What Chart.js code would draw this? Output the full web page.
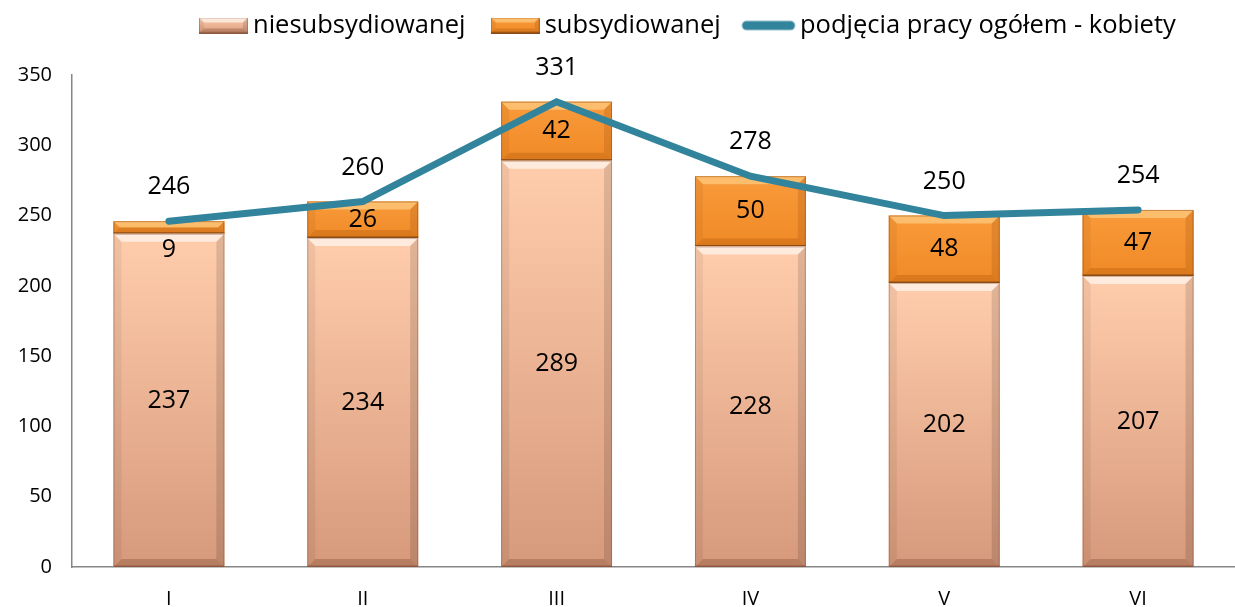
<!DOCTYPE html>
<html>
<head>
<meta charset="utf-8">
<script src="https://cdn.jsdelivr.net/npm/chart.js@4/dist/chart.umd.min.js"></script>
<style>
html,body{margin:0;padding:0;background:#fff;}
#wrap{width:1235px;height:607px;position:relative;}
</style>
</head>
<body>
<div id="wrap"><canvas id="c" width="1235" height="607"></canvas></div>
<script>
const categories = ['I', 'II', 'III', 'IV', 'V', 'VI'];
const niesubsydiowane = [237, 234, 289, 228, 202, 207];
const subsydiowane = [9, 26, 42, 50, 48, 47];
const ogolem = [246, 260, 331, 278, 250, 254];
const seriesNames = ['niesubsydiowanej', 'subsydiowanej', 'podjęcia pracy ogółem - kobiety'];
const yTicks = [0, 50, 100, 150, 200, 250, 300, 350];

const FONT = "'Open Sans', 'DejaVu Sans', sans-serif";
const LEGEND_FS = 25.5;
const LINE_COLOR = '#31849B';

const barStyles = [
  {top: '#FFCDAC', bottom: '#D6997B', bevel: 8, light: 'rgba(255,255,255,0.6)', dark: 'rgba(90,45,20,0.25)',
   side: 'rgba(0,0,0,0.06)', side2: 'rgba(0,0,0,0.12)', edge: 'rgba(120,70,45,0.35)', baseLine: 'rgba(120,70,45,0.5)'},
  {top: '#F99A3A', bottom: '#F08A27', bevel: 8, light: 'rgba(255,215,145,0.6)', dark: 'rgba(160,75,0,0.28)',
   side: 'rgba(120,50,0,0.08)', side2: 'rgba(120,50,0,0.16)', edge: 'rgba(140,70,15,0.45)', baseLine: '#8A4A14'}
];

function paintBevelBox(ctx, l, t, r, b, style) {
  const h = b - t;
  const g = ctx.createLinearGradient(0, t, 0, b);
  g.addColorStop(0, style.top);
  g.addColorStop(1, style.bottom);
  ctx.fillStyle = g;
  ctx.fillRect(l, t, r - l, h);
  const bv = Math.min(style.bevel, h / 2, (r - l) / 2);
  ctx.fillStyle = style.light;
  ctx.beginPath();
  ctx.moveTo(l, t); ctx.lineTo(r, t); ctx.lineTo(r - bv, t + bv); ctx.lineTo(l + bv, t + bv); ctx.closePath(); ctx.fill();
  ctx.fillStyle = style.dark;
  ctx.beginPath();
  ctx.moveTo(l, b); ctx.lineTo(r, b); ctx.lineTo(r - bv, b - bv); ctx.lineTo(l + bv, b - bv); ctx.closePath(); ctx.fill();
  ctx.fillStyle = style.side;
  ctx.beginPath();
  ctx.moveTo(l, t); ctx.lineTo(l + bv, t + bv); ctx.lineTo(l + bv, b - bv); ctx.lineTo(l, b); ctx.closePath(); ctx.fill();
  ctx.fillStyle = style.side2;
  ctx.beginPath();
  ctx.moveTo(r, t); ctx.lineTo(r - bv, t + bv); ctx.lineTo(r - bv, b - bv); ctx.lineTo(r, b); ctx.closePath(); ctx.fill();
  ctx.strokeStyle = style.edge;
  ctx.lineWidth = 1;
  ctx.strokeRect(l + 0.5, t + 0.5, r - l - 1, h - 1);
  ctx.fillStyle = style.baseLine;
  ctx.fillRect(l, b - 1.5, r - l, 1.5);
}

function legendBoxImage(style) {
  const c = document.createElement('canvas');
  c.width = 49; c.height = 16;
  const x = c.getContext('2d');
  paintBevelBox(x, 0, 0, 49, 16, Object.assign({}, style, {bevel: 5}));
  return c;
}
function legendLineImage() {
  const c = document.createElement('canvas');
  c.width = 60; c.height = 12;
  const x = c.getContext('2d');
  x.strokeStyle = LINE_COLOR;
  x.lineWidth = 9;
  x.lineCap = 'round';
  x.beginPath(); x.moveTo(6, 6); x.lineTo(50, 6); x.stroke();
  return c;
}
const legendImages = [legendBoxImage(barStyles[0]), legendBoxImage(barStyles[1]), legendLineImage()];

const barPainter = {
  id: 'barPainter',
  afterDatasetDraw(chart, args) {
    const style = barStyles[args.index];
    if (!style) return;
    const ctx = chart.ctx;
    ctx.save();
    args.meta.data.forEach(el => {
      const p = el.getProps(['x', 'y', 'base', 'width'], true);
      const l = p.x - p.width / 2, r = p.x + p.width / 2;
      const t = Math.min(p.y, p.base), b = Math.max(p.y, p.base);
      paintBevelBox(ctx, l, t, r, b, style);
    });
    ctx.restore();
  }
};

const valueLabels = {
  id: 'valueLabels',
  afterDatasetsDraw(chart) {
    const ctx = chart.ctx;
    ctx.save();
    ctx.fillStyle = '#000';
    ctx.textAlign = 'center';
    ctx.textBaseline = 'middle';
    ctx.font = "25px " + FONT;
    chart.data.datasets.forEach((ds, di) => {
      const meta = chart.getDatasetMeta(di);
      meta.data.forEach((el, i) => {
        const v = ds.data[i];
        if (ds.type === 'line') {
          ctx.fillText(String(v), el.x, el.y - 34);
        } else {
          const p = el.getProps(['x', 'y', 'base'], true);
          const t = Math.min(p.y, p.base), b = Math.max(p.y, p.base);
          let cy = (t + b) / 2;
          if (b - t < 22) cy = b + 16;
          ctx.fillText(String(v), p.x, cy);
        }
      });
    });
    ctx.restore();
  }
};

const legendPos = {
  id: 'legendPos',
  beforeUpdate(chart) {
    const lg = chart.legend;
    if (lg && !lg._patched) {
      const f = lg.fit.bind(lg);
      lg.fit = function () { f(); this.height = 75; };
      lg._patched = true;
    }
  },
  afterLayout(chart) {
    const lg = chart.legend;
    if (!lg) return;
    const pad = lg.options.labels.padding;
    lg.left = 206.75 - pad;
    lg.top = 25.5 - pad - LEGEND_FS / 2;
  }
};

const chart = new Chart(document.getElementById('c'), {
  data: {
    labels: categories,
    datasets: [
      {type: 'bar', label: seriesNames[0], data: niesubsydiowane, backgroundColor: '#EDB594', stack: 'bars', order: 1,
       categoryPercentage: 1, barPercentage: 0.572},
      {type: 'bar', label: seriesNames[1], data: subsydiowane, backgroundColor: '#F28B2A', stack: 'bars', order: 1,
       categoryPercentage: 1, barPercentage: 0.572},
      {type: 'line', label: seriesNames[2], data: ogolem, borderColor: LINE_COLOR, backgroundColor: LINE_COLOR,
       borderWidth: 7, pointRadius: 0, tension: 0, stack: 'total', order: 0,
       borderCapStyle: 'round', borderJoinStyle: 'miter'}
    ]
  },
  options: {
    responsive: false,
    animation: false,
    layout: {padding: {left: 0, right: 0, top: 0, bottom: 0}},
    plugins: {
      tooltip: {enabled: false},
      legend: {
        position: 'top',
        align: 'start',
        labels: {
          font: {family: FONT, size: LEGEND_FS},
          color: '#000',
          padding: 33,
          usePointStyle: true,
          pointStyleWidth: 33.5,
          boxHeight: 16,
          generateLabels(chart) {
            return chart.data.datasets.map((ds, i) => ({
              text: ds.label,
              datasetIndex: i,
              fillStyle: ds.type === 'line' ? LINE_COLOR : ds.backgroundColor,
              strokeStyle: ds.type === 'line' ? LINE_COLOR : ds.backgroundColor,
              lineWidth: 0,
              pointStyle: legendImages[i],
              fontColor: '#000',
              hidden: false
            }));
          }
        }
      }
    },
    scales: {
      x: {
        stacked: true,
        grid: {display: false, drawTicks: false},
        border: {display: true, color: '#868686', width: 1.5},
        ticks: {font: {family: FONT, size: 20}, color: '#000', padding: 20},
        afterFit(scale) { scale.height = 40; }
      },
      y: {
        stacked: true,
        min: 0, max: 350,
        afterBuildTicks(scale) { scale.ticks = yTicks.map(v => ({value: v})); },
        grid: {display: false, drawTicks: false},
        border: {display: true, color: '#868686', width: 1.5},
        ticks: {font: {family: FONT, size: 20}, color: '#000', padding: 20},
        afterFit(scale) { scale.width = 72; }
      }
    }
  },
  plugins: [barPainter, valueLabels, legendPos]
});
</script>
</body>
</html>
